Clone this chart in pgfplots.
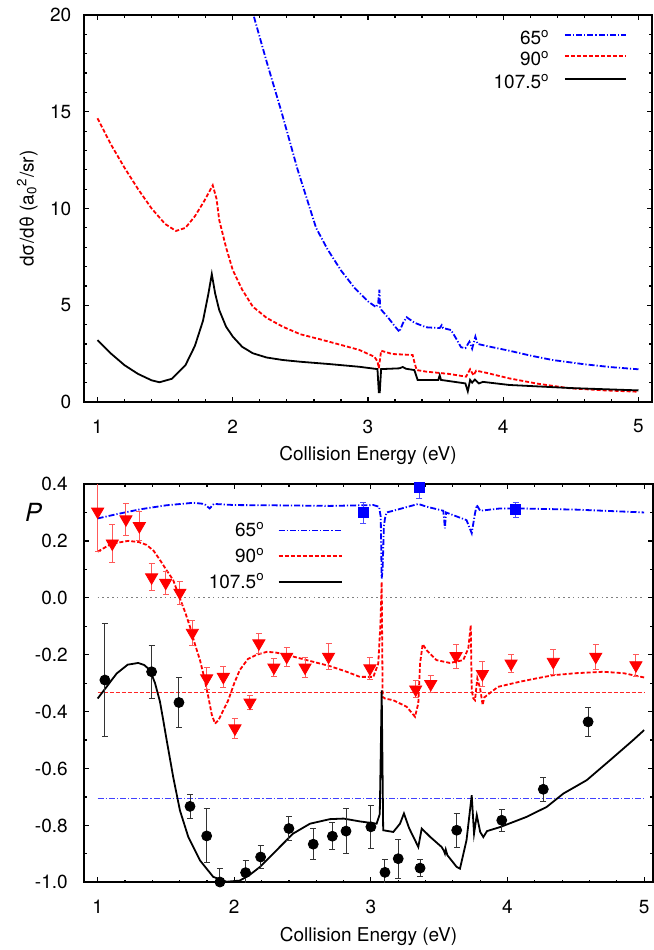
\documentclass[border=0pt]{standalone}
\usepackage{pgfplots}
\pgfplotsset{compat=1.18}
\usepackage{fontspec}
\setmainfont{TeX Gyre Heros}
\definecolor{gblue}{RGB}{0,0,255}
\definecolor{gred}{RGB}{255,0,0}
\pgfplotsset{
 gpaxis/.style={
  scale only axis, xmin=0.9,
  axis line style={line width=1bp},
  major tick length=2.5bp, minor tick length=1.3bp,
  every tick/.style={black, line width=0.6bp},
  xtick={1,2,3,4,5}, minor x tick num=4,
  /pgf/number format/assume math mode=true,
  xticklabel style={yshift=-5.5bp},
  xlabel={Collision Energy (eV)},
  legend plot pos=right, legend cell align=right,
  clip=true,
 }
}
\begin{document}
\fontsize{9.5bp}{11bp}\selectfont
\begin{tikzpicture}
\useasboundingbox (-42bp,201bp) rectangle (285bp,-274bp);
% ---------------- top panel ----------------
\begin{axis}[gpaxis, at={(0,0)}, anchor=south west,
  width=284bp, height=193.5bp, xmax=5.1,
  ymin=0, ymax=20, ytick={0,5,10,15,20}, minor y tick num=4,
  yticklabel style={xshift=-3bp},
  xlabel style={at={(axis description cs:0.5,-0.1499)}, anchor=base},
  ylabel={dσ/dθ (a\textsubscript{0}\textsuperscript{2}/sr)},
  ylabel style={at={(axis description cs:-0.0889,0.5)}, anchor=base},
]
\addplot[draw=gblue, line width=0.9bp, dash pattern=on 3bp off 1bp on 0.6bp off 1bp] coordinates {
(2.10,21.6) (2.153,20) (2.25,17.6) (2.36,15.0) (2.48,12.0) (2.616,9.0) (2.70,7.9)
(2.80,6.8) (2.90,5.9) (3.00,5.2) (3.06,4.9) (3.075,5.1) (3.084,5.8) (3.09,4.9)
(3.10,4.75) (3.15,4.35) (3.20,3.9) (3.232,3.63) (3.26,4.1) (3.286,4.38) (3.343,4.1)
(3.43,3.86) (3.53,3.82) (3.545,3.97) (3.555,3.82) (3.614,3.72) (3.65,3.3) (3.688,2.83)
(3.72,2.78) (3.75,3.12) (3.77,2.75) (3.794,3.38) (3.81,3.0) (3.92,2.83) (4.045,2.65)
(4.2,2.4) (4.365,2.17) (4.6,1.95) (4.8,1.8) (5.0,1.69)};
\addplot[draw=gred, line width=0.9bp, dash pattern=on 2bp off 1bp] coordinates {
(1.0,14.66) (1.1,13.3) (1.2,12.1) (1.3,11.0) (1.4,10.0) (1.5,9.2) (1.58,8.84) (1.65,9.0)
(1.72,9.6) (1.79,10.4) (1.852,11.2) (1.88,10.5) (1.90,9.4) (1.95,8.0) (2.0,6.82)
(2.07,5.8) (2.148,4.93) (2.25,4.35) (2.37,3.89) (2.5,3.5) (2.64,3.25) (2.8,2.95)
(2.936,2.69) (3.047,2.34) (3.07,2.1) (3.08,1.74) (3.097,2.65) (3.18,2.48) (3.33,2.43)
(3.345,2.0) (3.36,1.65) (3.43,1.57) (3.6,1.45) (3.725,1.31) (3.755,1.69) (3.78,1.38)
(3.80,1.62) (3.88,1.5) (4.045,1.22) (4.25,0.95) (4.49,0.71) (4.75,0.6) (5.0,0.53)};
\addplot[draw=black, line width=0.9bp, solid] coordinates {
(1.0,3.2) (1.1,2.5) (1.2,1.9) (1.3,1.45) (1.4,1.12) (1.458,1.02) (1.55,1.2) (1.65,1.9)
(1.72,2.9) (1.78,4.2) (1.82,5.6) (1.845,6.61) (1.87,5.6) (1.90,4.75) (1.95,3.9) (2.0,3.38)
(2.07,2.85) (2.148,2.52) (2.25,2.3) (2.37,2.17) (2.5,2.08) (2.715,1.96) (2.936,1.82)
(3.07,1.7) (3.08,0.5) (3.087,0.5) (3.097,1.7) (3.232,1.74) (3.257,1.81) (3.28,1.72)
(3.343,1.65) (3.367,1.14) (3.52,1.14) (3.53,1.38) (3.54,1.14) (3.72,0.96) (3.738,0.55)
(3.755,1.14) (3.77,1.0) (3.79,1.16) (3.82,0.96) (3.85,1.04) (4.045,0.88) (4.5,0.72) (5.0,0.6)};
% legend (drawn by hand)
\draw[gblue, line width=0.9bp, dash pattern=on 3bp off 1bp on 0.6bp off 1bp]
  (axis description cs:0.8468,0.9483) -- (axis description cs:0.9542,0.9483);
\draw[gred, line width=0.9bp, dash pattern=on 2bp off 1bp]
  (axis description cs:0.8468,0.894) -- (axis description cs:0.9542,0.894);
\draw[black, line width=0.9bp]
  (axis description cs:0.8468,0.8346) -- (axis description cs:0.9542,0.8346);
\node[anchor=base east, inner sep=0pt, yshift=-4.7bp] at (axis description cs:0.8204,0.9483) {65\textsuperscript{o}};
\node[anchor=base east, inner sep=0pt, yshift=-4.7bp] at (axis description cs:0.8204,0.894) {90\textsuperscript{o}};
\node[anchor=base east, inner sep=0pt, yshift=-4.7bp] at (axis description cs:0.8204,0.8346) {107.5\textsuperscript{o}};
\end{axis}
% ---------------- bottom panel ----------------
\begin{axis}[gpaxis, at={(0,-240.15bp)}, anchor=south west,
  width=284.5bp, height=199.15bp, xmax=5.065,
  ymin=-1, ymax=0.4, ytick={-1,-0.8,-0.6,-0.4,-0.2,0,0.2,0.4},
  yticklabels={-1.0,-0.8,-0.6,-0.4,-0.2,0.0,0.2,0.4}, minor y tick num=1,
  yticklabel style={xshift=-4.8bp},
  xlabel style={at={(axis description cs:0.5,-0.149)}, anchor=base},
  ylabel={\fontsize{12.5bp}{14bp}\selectfont\itshape P},
  ylabel style={at={(axis description cs:-0.0888,0.9285)}, anchor=center, rotate=-90},
  legend image code/.code={\draw[#1] (0bp,0bp) -- (31.5bp,0bp);},
  legend style={at={(axis description cs:0.455,0.912)}, anchor=north east,
    draw=none, fill=none, inner sep=0pt, column sep=6bp, row sep=1.9bp,
    nodes={inner sep=0.5bp, text height=8bp, text depth=2bp}},
]
\addplot[forget plot, gray, line width=0.6bp, dash pattern=on 0.8bp off 1.6bp] coordinates {(1,0) (5,0)};
\addplot[forget plot, gred!85, line width=0.5bp, dash pattern=on 2bp off 1bp] coordinates {(1,-0.3333) (5,-0.3333)};
\addplot[forget plot, gblue!75, line width=0.5bp, dash pattern=on 3bp off 1bp on 0.6bp off 1bp] coordinates {(1,-0.7071) (5,-0.7071)};
\addplot[draw=gblue, color=gblue, line width=0.9bp, dash pattern=on 3bp off 1bp on 0.6bp off 1bp] coordinates {
(1.0,0.279) (1.15,0.295) (1.31,0.311) (1.5,0.325) (1.70,0.334) (1.78,0.33) (1.82,0.314)
(1.85,0.33) (2.0,0.326) (2.3,0.325) (2.7,0.323) (3.018,0.326) (3.06,0.32) (3.072,0.285)
(3.079,0.068) (3.086,0.10) (3.095,0.25) (3.103,0.279) (3.115,0.30) (3.164,0.306)
(3.347,0.33) (3.41,0.32) (3.53,0.306) (3.542,0.244) (3.55,0.30) (3.70,0.273) (3.738,0.227)
(3.762,0.297) (3.775,0.326) (3.80,0.306) (3.945,0.314) (4.09,0.314) (4.5,0.31) (5.0,0.30)};
\addlegendentry{65\textsuperscript{o}}
\addplot[draw=gred, color=gred, line width=0.9bp, dash pattern=on 2bp off 1bp] coordinates {
(1.0,0.162) (1.1,0.19) (1.224,0.20) (1.30,0.196) (1.358,0.186) (1.41,0.165) (1.456,0.133)
(1.50,0.10) (1.553,0.062) (1.602,-0.002) (1.64,-0.05) (1.676,-0.102) (1.71,-0.16)
(1.749,-0.219) (1.78,-0.28) (1.81,-0.348) (1.835,-0.41) (1.859,-0.442) (1.885,-0.43)
(1.908,-0.407) (1.93,-0.385) (1.956,-0.36) (2.0,-0.30) (2.04,-0.254) (2.1,-0.215)
(2.164,-0.20) (2.237,-0.19) (2.30,-0.192) (2.38,-0.20) (2.53,-0.219) (2.70,-0.24)
(2.823,-0.26) (2.92,-0.278) (3.018,-0.278) (3.054,-0.231) (3.07,-0.09) (3.079,0.056)
(3.086,-0.348) (3.103,-0.354) (3.164,-0.36) (3.262,-0.383) (3.323,-0.418) (3.347,-0.371)
(3.36,-0.231) (3.379,-0.163) (3.408,-0.184) (3.48,-0.219) (3.579,-0.229) (3.676,-0.219)
(3.713,-0.178) (3.731,-0.096) (3.738,-0.325) (3.75,-0.354) (3.762,-0.36) (3.779,-0.283)
(3.80,-0.32) (3.818,-0.377) (3.83,-0.35) (3.884,-0.33) (3.93,-0.313) (4.09,-0.295)
(4.214,-0.283) (4.335,-0.272) (4.5,-0.265) (4.70,-0.26) (4.85,-0.265) (5.0,-0.28)};
\addlegendentry{90\textsuperscript{o}}
\addplot[draw=black, color=black, line width=0.9bp, solid] coordinates {
(1.0,-0.354) (1.07,-0.31) (1.139,-0.266) (1.22,-0.235) (1.297,-0.229) (1.34,-0.236)
(1.383,-0.254) (1.42,-0.30) (1.456,-0.365) (1.48,-0.43) (1.505,-0.5) (1.553,-0.63)
(1.602,-0.747) (1.663,-0.84) (1.749,-0.923) (1.846,-0.981) (1.944,-0.998) (2.04,-0.994)
(2.11,-0.975) (2.188,-0.946) (2.31,-0.887) (2.43,-0.829) (2.554,-0.794) (2.70,-0.778)
(2.80,-0.776) (2.92,-0.786) (3.042,-0.794) (3.065,-0.76) (3.072,-0.55) (3.079,-0.325)
(3.084,-0.55) (3.09,-0.817) (3.164,-0.823) (3.213,-0.794) (3.242,-0.758) (3.28,-0.81)
(3.323,-0.852) (3.347,-0.876) (3.372,-0.811) (3.433,-0.84) (3.518,-0.876) (3.535,-0.89)
(3.542,-0.899) (3.548,-0.885) (3.56,-0.905) (3.628,-0.946) (3.652,-0.952) (3.70,-0.852)
(3.738,-0.694) (3.755,-0.829) (3.775,-0.764) (3.80,-0.823) (3.823,-0.841) (3.85,-0.82)
(3.945,-0.806) (4.14,-0.77) (4.287,-0.735) (4.409,-0.688) (4.58,-0.641) (4.75,-0.571)
(4.92,-0.50) (5.0,-0.465)};
\addlegendentry{107.5\textsuperscript{o}}
% data: 65 deg
\addplot[forget plot, only marks, mark=square*, mark size=2.5bp, gblue,
  error bars/.cd, y dir=both, y explicit,
  error bar style={gblue!70, line width=0.5bp},
  error mark options={rotate=90, mark size=1.5bp, gblue!70, line width=0.5bp}]
 table[x=x, y=y, y error=e] {
x y e
2.945 0.299 0.037
3.354 0.388 0.038
4.06 0.309 0.026
};
% data: 90 deg
\addplot[forget plot, only marks, mark=triangle*, mark size=3.5bp, gred,
  mark options={rotate=180},
  error bars/.cd, y dir=both, y explicit,
  error bar style={gred!65, line width=0.5bp},
  error mark options={rotate=90, mark size=1.5bp, gred!65, line width=0.5bp}]
 table[x=x, y=y, y error=e] {
x y e
1.0 0.303 0.141
1.107 0.191 0.067
1.207 0.276 0.056
1.305 0.252 0.05
1.395 0.072 0.047
1.498 0.053 0.041
1.602 0.018 0.04
1.693 -0.123 0.043
1.798 -0.283 0.038
1.92 -0.278 0.038
2.005 -0.459 0.035
2.115 -0.368 0.025
2.18 -0.16 0.035
2.29 -0.245 0.032
2.384 -0.207 0.034
2.518 -0.245 0.035
2.69 -0.207 0.045
2.993 -0.248 0.038
3.328 -0.322 0.03
3.438 -0.303 0.03
3.623 -0.205 0.042
3.816 -0.268 0.044
4.026 -0.231 0.033
4.335 -0.225 0.044
4.646 -0.207 0.044
4.94 -0.237 0.038
};
% data: 107.5 deg
\addplot[forget plot, only marks, mark=*, mark size=2.5bp, black,
  error bars/.cd, y dir=both, y explicit,
  error bar style={black!80, line width=0.5bp},
  error mark options={rotate=90, mark size=1.5bp, black!80, line width=0.5bp}]
 table[x=x, y=y, y error=e] {
x y e
1.053 -0.289 0.2
1.395 -0.26 0.094
1.595 -0.368 0.087
1.676 -0.733 0.043
1.798 -0.837 0.095
1.895 -0.999 0.047
2.083 -0.966 0.044
2.193 -0.911 0.04
2.40 -0.811 0.041
2.578 -0.866 0.054
2.718 -0.838 0.048
2.818 -0.82 0.079
3.0 -0.805 0.076
3.103 -0.965 0.046
3.20 -0.917 0.069
3.36 -0.95 0.03
3.628 -0.817 0.06
3.958 -0.782 0.038
4.262 -0.673 0.042
4.59 -0.436 0.05
};
\end{axis}
\end{tikzpicture}
\end{document}
